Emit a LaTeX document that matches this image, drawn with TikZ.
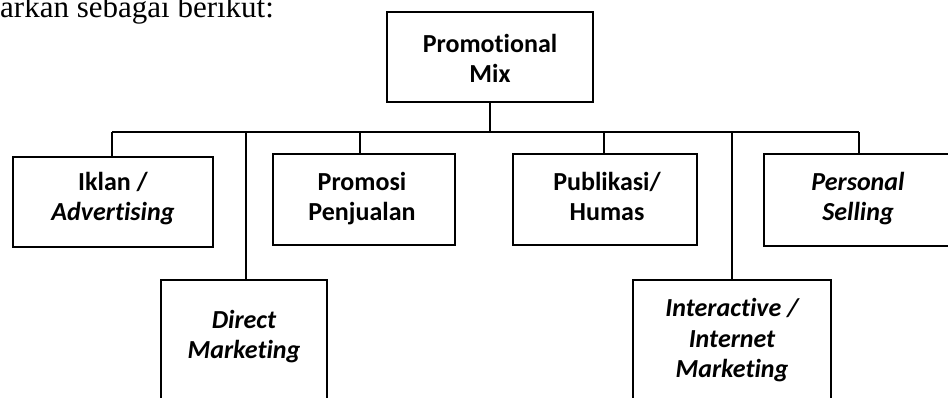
\documentclass[tikz,border=0pt]{standalone}
\usepackage{fontspec}
\setmainfont{Carlito}[Ligatures=NoCommon]
\newfontfamily\introfont{Liberation Serif}
\begin{document}
\begin{tikzpicture}[x=1pt,y=-1pt,
  box/.style={draw, line width=1.6pt, rectangle, inner sep=0pt},
  conn/.style={line width=1.1pt},
  lbl/.style={anchor=base, inner sep=0pt, font=\fontsize{26}{30}\selectfont\bfseries},
  ilbl/.style={anchor=base, inner sep=0pt, font=\fontsize{26}{30}\selectfont\bfseries\itshape}]
\useasboundingbox (0,0) rectangle (948,398);
\clip (0,0) rectangle (948,398);
% intro text
\node[anchor=base west, inner sep=0pt, font=\introfont\fontsize{31}{34}\selectfont] (intro) at (0,18) {arkan sebagai berikut:};
% boxes
\node[box, minimum width=206pt, minimum height=90pt] (pm) at (490,57) {};
\node[box, minimum width=200pt, minimum height=90pt] (iklan) at (113,202) {};
\node[box, minimum width=166pt, minimum height=130pt] (direct) at (244,345) {};
\node[box, minimum width=182pt, minimum height=91pt] (promosi) at (364,199.5) {};
\node[box, minimum width=184pt, minimum height=91pt] (publik) at (605,199.5) {};
\node[box, minimum width=198pt, minimum height=130pt] (inter) at (732,345) {};
\node[box, minimum width=189pt, minimum height=92pt] (personal) at (858.5,200) {};
% bus
\coordinate (busL) at (112,132);
\coordinate (busR) at (859,132);
\draw[conn] (busL) -- (busR);
\draw[conn] (pm.south) -- (pm.south |- busL);
\draw[conn] ([xshift=-1pt]iklan.north) -- ([xshift=-1pt]iklan.north |- busL);
\draw[conn] ([xshift=2pt]direct.north) -- ([xshift=2pt]direct.north |- busL);
\draw[conn] ([xshift=-4pt]promosi.north) -- ([xshift=-4pt]promosi.north |- busL);
\draw[conn] ([xshift=-1pt]publik.north) -- ([xshift=-1pt]publik.north |- busL);
\draw[conn] (inter.north) -- (inter.north |- busL);
\draw[conn] ([xshift=0.5pt]personal.north) -- ([xshift=0.5pt]personal.north |- busL);
% labels
\node[lbl] (pm1) at (490,53) {Promotional};
\node[lbl] (pm2) at (490,83) {Mix};
\node[lbl] (ik1) at (113,191) {Iklan /};
\node[ilbl] (ik2) at (113,221) {Advertising};
\node[lbl] (pr1) at (362,191) {Promosi};
\node[lbl] (pr2) at (362,221) {Penjualan};
\node[lbl] (pu1) at (607,191) {Publikasi/};
\node[lbl] (pu2) at (607,221) {Humas};
\node[ilbl] (pe1) at (858,191) {Personal};
\node[ilbl] (pe2) at (858,221) {Selling};
\node[ilbl] (di1) at (244,328) {Direct};
\node[ilbl] (di2) at (244,358) {Marketing};
\node[ilbl] (in1) at (732,316) {Interactive /};
\node[ilbl] (in2) at (732,347) {Internet};
\node[ilbl] (in3) at (732,377) {Marketing};
\end{tikzpicture}
\end{document}
